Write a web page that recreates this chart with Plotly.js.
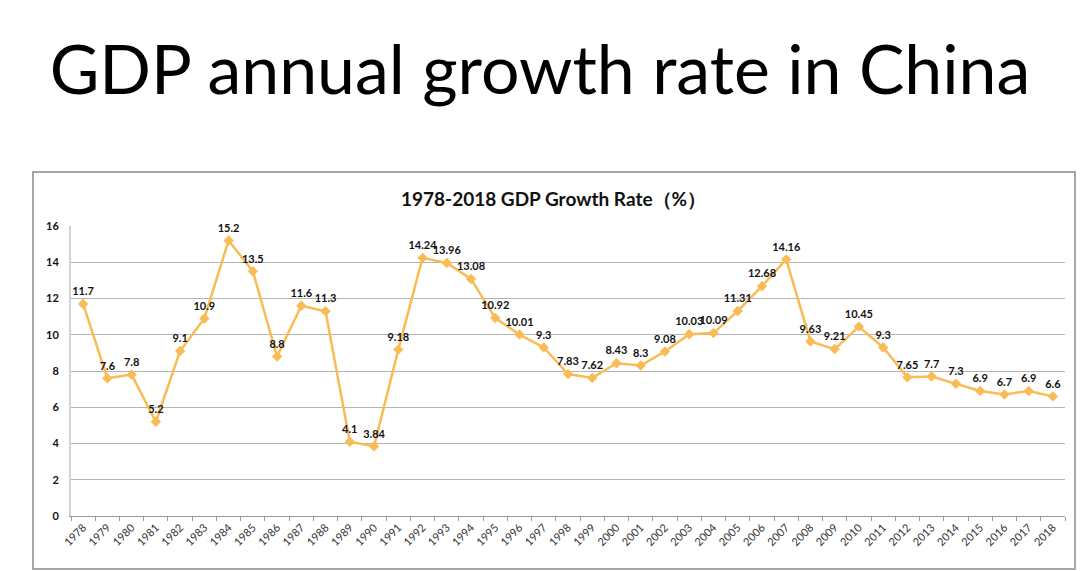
<!DOCTYPE html>
<html>
<head>
<meta charset="utf-8">
<script src="https://cdn.plot.ly/plotly-3.0.1.min.js"></script>
<style>
html,body{margin:0;padding:0;background:#fff;}
#chart{width:1080px;height:571px;}
</style>
</head>
<body>
<div id="chart"></div>
<script>
const years = ["1978","1979","1980","1981","1982","1983","1984","1985","1986","1987","1988","1989","1990","1991","1992","1993","1994","1995","1996","1997","1998","1999","2000","2001","2002","2003","2004","2005","2006","2007","2008","2009","2010","2011","2012","2013","2014","2015","2016","2017","2018"];
const growthRate = [11.7,7.6,7.8,5.2,9.1,10.9,15.2,13.5,8.8,11.6,11.3,4.1,3.84,9.18,14.24,13.96,13.08,10.92,10.01,9.3,7.83,7.62,8.43,8.3,9.08,10.03,10.09,11.31,12.68,14.16,9.63,9.21,10.45,9.3,7.65,7.7,7.3,6.9,6.7,6.9,6.6];
const yTicks = [0,2,4,6,8,10,12,14,16];
const mainTitle = "GDP annual growth rate in China";
const chartTitle = "1978-2018 GDP Growth Rate（%）";

const W = 1080, H = 571;
const L = 71, R = 1065, T = 226, B = 516;
const px = x => (x - L) / (R - L);
const py = y => (B - y) / (B - T);

const trace = {
  type: "scatter",
  mode: "lines+markers+text",
  x: years,
  y: growthRate,
  text: growthRate.map(String),
  textposition: "top center",
  textfont: {family: "Lato, 'Open Sans', sans-serif", size: 11, color: "#111", weight: "bold"},
  line: {color: "#F9BC55", width: 2.5},
  marker: {symbol: "diamond", size: 8, color: "#F9BC55"},
  cliponaxis: false,
  hoverinfo: "x+y"
};

const layout = {
  width: W, height: H,
  margin: {l: L, r: W - R, t: T, b: H - B, pad: 0},
  paper_bgcolor: "#fff",
  plot_bgcolor: "#fff",
  showlegend: false,
  title: {
    text: mainTitle,
    font: {family: "Lato, 'Open Sans', sans-serif", size: 68, color: "#000"},
    x: 0.5, xanchor: "center",
    y: 1 - 70 / H, yref: "container", yanchor: "middle"
  },
  xaxis: {
    type: "category",
    range: [-0.5, years.length - 0.5],
    tickangle: -45,
    tickson: "boundaries",
    ticks: "outside",
    ticklen: 4,
    tickcolor: "#999",
    showline: true,
    linecolor: "#999",
    linewidth: 1,
    showgrid: false,
    tickfont: {family: "Lato, 'Open Sans', sans-serif", size: 11, color: "#333"},
    fixedrange: true
  },
  yaxis: {
    range: [0, 16],
    tickvals: yTicks,
    ticktext: yTicks.map(String),
    showgrid: true,
    gridcolor: "#b4b4b4",
    gridwidth: 1,
    showline: true,
    linecolor: "#d4d4d4",
    linewidth: 2,
    zeroline: false,
    ticks: "",
    ticklabelstandoff: 8,
    tickfont: {family: "Lato, 'Open Sans', sans-serif", size: 11, color: "#111", weight: "bold"},
    fixedrange: true
  },
  shapes: [{
    type: "rect", xref: "paper", yref: "paper",
    x0: px(33), x1: px(1075), y0: py(569), y1: py(172),
    line: {color: "#a6a6a6", width: 2},
    fillcolor: "rgba(0,0,0,0)",
    layer: "below"
  }],
  annotations: [{
    text: chartTitle,
    xref: "paper", yref: "paper",
    x: px(553), y: py(198),
    xanchor: "center", yanchor: "middle",
    showarrow: false,
    font: {family: "Lato, 'Open Sans', sans-serif", size: 19, color: "#111", weight: "bold"}
  }]
};

Plotly.newPlot("chart", [trace], layout, {displayModeBar: false, staticPlot: true});
</script>
</body>
</html>
